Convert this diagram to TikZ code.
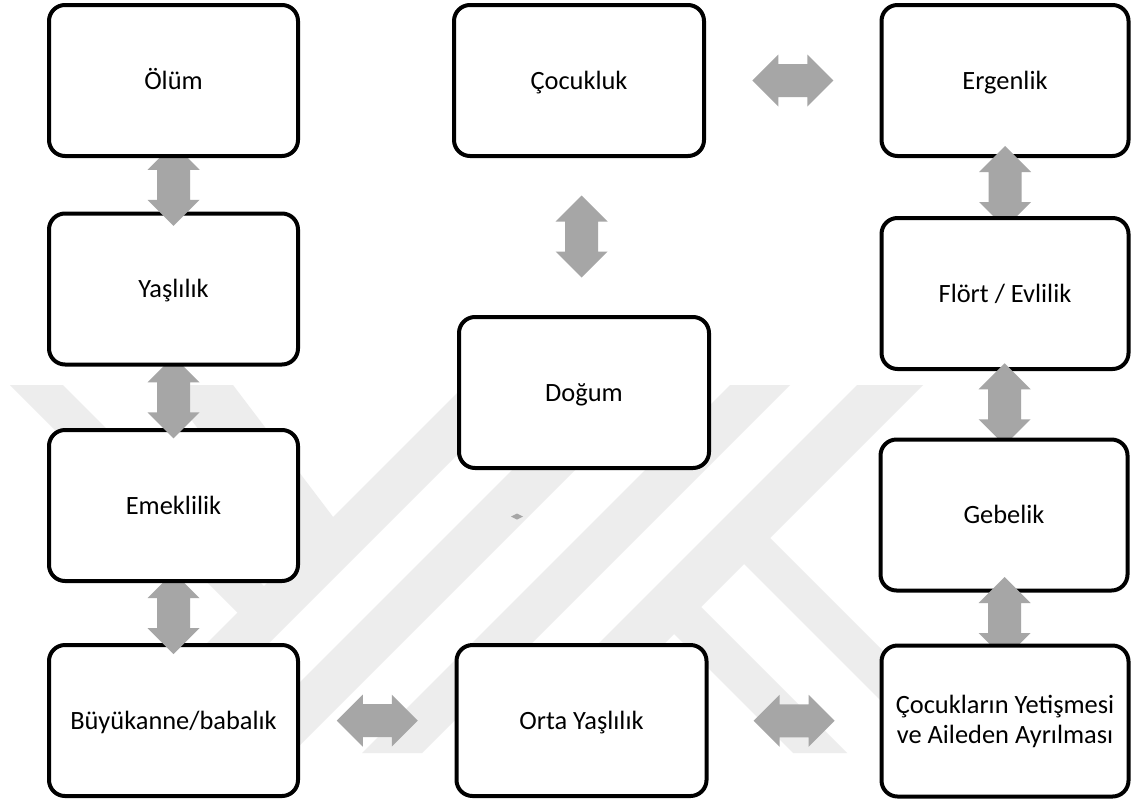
\documentclass[tikz,border=0pt]{standalone}
\usepackage{fontspec}
\setmainfont{Carlito}
\usetikzlibrary{calc}
\pgfdeclarelayer{wm}
\pgfdeclarelayer{lA}
\pgfdeclarelayer{lB}
\pgfdeclarelayer{lC}
\pgfdeclarelayer{lD}
\pgfdeclarelayer{lE}
\pgfdeclarelayer{lF}
\pgfdeclarelayer{lG}
\pgfsetlayers{wm,lA,lB,lC,lD,lE,lF,lG,main}
\definecolor{arrowgray}{RGB}{166,166,166}
\definecolor{wmgray}{RGB}{237,237,237}
\tikzset{
  stage/.style={draw=black, line width=2pt, rounded corners=8pt, fill=white,
    minimum height=75.5pt, inner sep=2pt, align=center,
    font=\fontsize{13.2}{15}\selectfont},
  oneline/.style={text height=10pt, text depth=1.2pt},
  leftcol/.style={stage, oneline, minimum width=124.5pt},
  midcol/.style={stage, oneline, minimum width=125pt},
  rightcol/.style={stage, oneline, minimum width=123.5pt},
  rightcoltwo/.style={stage, minimum width=123.5pt},
  blockarrow/.style={fill=arrowgray},
  wmband/.style={fill=wmgray}
}
\newcommand{\vdarrow}[1]{\fill[blockarrow, shift={#1}] (0,-41) -- (26,-15) -- (16.5,-15) -- (16.5,15) -- (26,15) -- (0,41) -- (-26,15) -- (-16.5,15) -- (-16.5,-15) -- (-26,-15) -- cycle;}
\newcommand{\hdarrow}[1]{\fill[blockarrow, shift={#1}] (-40.5,0) -- (-14.5,-26) -- (-14.5,-16.5) -- (14.5,-16.5) -- (14.5,-26) -- (40.5,0) -- (14.5,26) -- (14.5,16.5) -- (-14.5,16.5) -- (-14.5,26) -- cycle;}
\begin{document}
\begin{tikzpicture}[x=0.5pt, y=-0.5pt]
\useasboundingbox (0,0) rectangle (1133,803);
% background and faint watermark
\begin{pgfonlayer}{wm}
\fill[white] (0,0) rectangle (1133,803);
\begin{scope}
\clip (-5,385) rectangle (1140,753);
\fill[wmband] (465,385) -- (527,385) -- (159,753) -- (97,753) -- cycle;
\fill[wmband] (597,385) -- (660,385) -- (292,753) -- (229,753) -- cycle;
\fill[wmband] (730,385) -- (790,385) -- (422,753) -- (362,753) -- cycle;
\fill[wmband] (857,385) -- (923,385) -- (555,753) -- (489,753) -- cycle;
\fill[wmband] (10,385) -- (63,385) -- (279,601) -- (252.5,627.5) -- cycle;
\fill[wmband] (165,385) -- (233,385) -- (346,534) -- (307,573) -- cycle;
\fill[wmband] (655,615) -- (682,588) -- (847,753) -- (793,753) -- cycle;
\fill[wmband] (725,545) -- (751,519) -- (985,753) -- (933,753) -- cycle;
\end{scope}
\end{pgfonlayer}
% boxes
\begin{pgfonlayer}{lA}
\node[leftcol] (buyuk) at (173.5,720.5) {Büyükanne/babalık};
\node[rightcol] (ergen) at (1005,80.5) {Ergenlik};
\end{pgfonlayer}
\begin{pgfonlayer}{lC}
\node[leftcol] (emek) at (173.5,505.5) {Emeklilik};
\node[rightcol] (flort) at (1005,293.5) {Flört / Evlilik};
\end{pgfonlayer}
\begin{pgfonlayer}{lE}
\node[leftcol] (yasl) at (173.5,289) {Yaşlılık};
\node[rightcol] (gebe) at (1004,515) {Gebelik};
\end{pgfonlayer}
\begin{pgfonlayer}{lG}
\node[leftcol] (olum) at (173.5,80.5) {Ölüm};
\node[rightcoltwo] (yetis) at (1005,721) {Çocukların Yetişmesi\\ve Aileden Ayrılması};
\end{pgfonlayer}
\node[midcol] (cocuk) at (579,80.5) {Çocukluk};
\node[midcol] (dogum) at (584,392.5) {Doğum};
\node[midcol] (orta) at (581.5,720.5) {Orta Yaşlılık};
% arrows
\begin{pgfonlayer}{lB}
\vdarrow{($(emek.south)!0.5!(buyuk.north)$)}
\vdarrow{($(ergen.south)!0.5!(flort.north)$)}
\end{pgfonlayer}
\begin{pgfonlayer}{lD}
\vdarrow{($(yasl.south)!0.5!(emek.north)$)}
\vdarrow{($(flort.south)!0.5!(gebe.north)$)}
\end{pgfonlayer}
\begin{pgfonlayer}{lF}
\vdarrow{($(olum.south)!0.5!(yasl.north)$)}
\vdarrow{($(gebe.south)!0.5!(yetis.north)$)}
\end{pgfonlayer}
\vdarrow{($(cocuk.south)!0.5!(dogum.north)$)}
\hdarrow{($(cocuk.east)!0.5!(ergen.west)$)}
\hdarrow{($(buyuk.east)!0.5!(orta.west)$)}
\hdarrow{($(orta.east)!0.5!(yetis.west)$)}
% small stray mark
\fill[arrowgray] (511,516.5) -- (517,513.5) -- (523,516.5) -- (517,519.5) -- cycle;
\end{tikzpicture}
\end{document}
